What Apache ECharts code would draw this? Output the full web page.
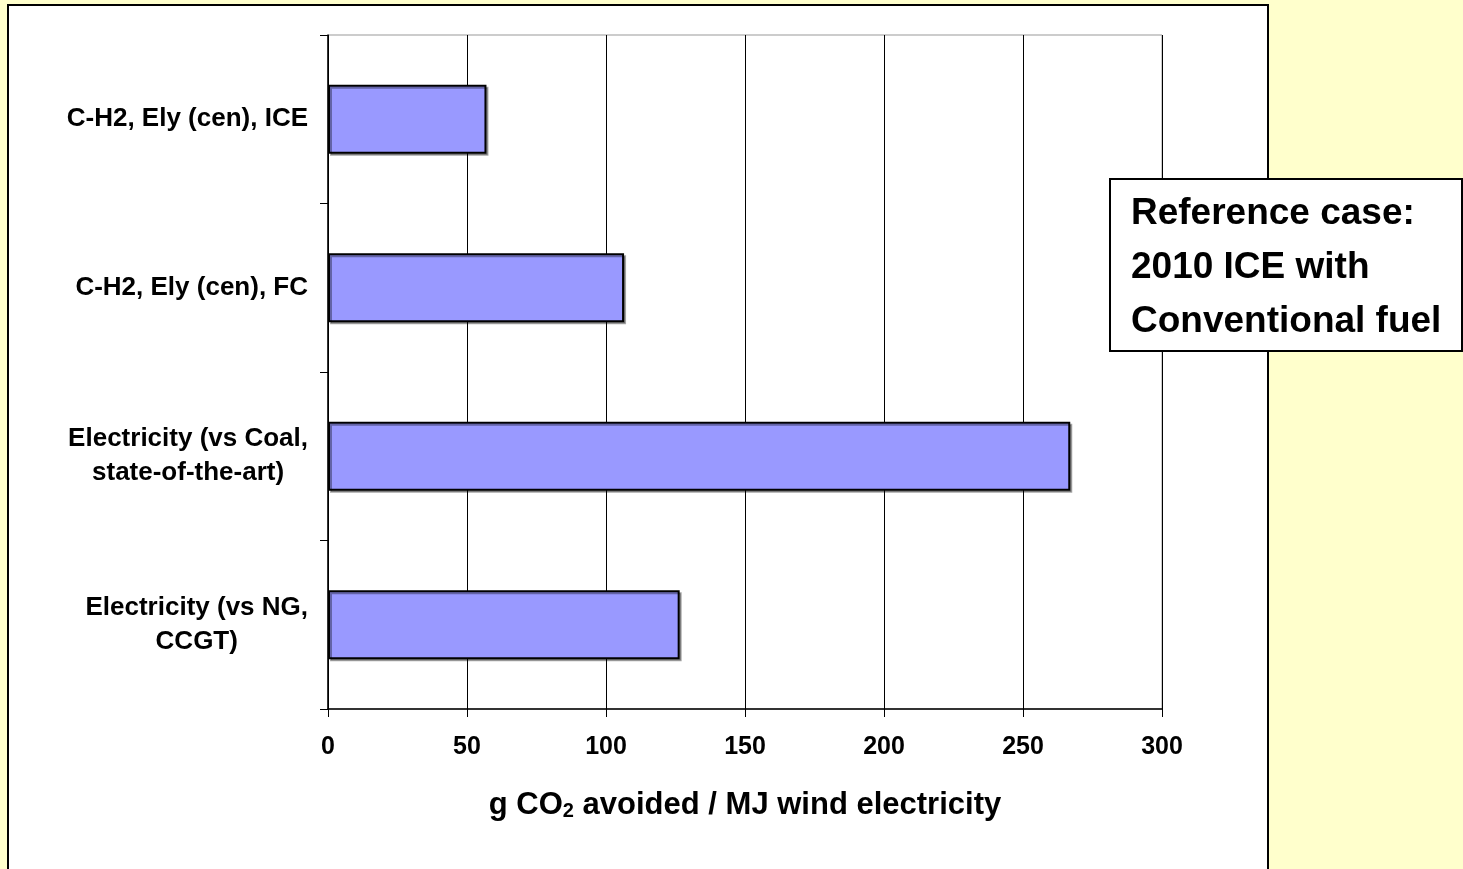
<!DOCTYPE html>
<html>
<head>
<meta charset="utf-8">
<script src="https://cdn.jsdelivr.net/npm/echarts@6/dist/echarts.min.js"></script>
<style>
    html, body { margin: 0; padding: 0; background: #FFFFCC; }
    #chartBox { width: 1463px; height: 869px; }
</style>
</head>
<body>
<div id="chartBox"></div>
<script>
// categories, top to bottom
const categories = [
    'C-H2, Ely (cen), ICE',
    'C-H2, Ely (cen), FC',
    'Electricity (vs Coal,\nstate-of-the-art)',
    'Electricity (vs NG,\nCCGT)'
];
// g CO2 avoided / MJ wind electricity
const avoided = [57, 106.5, 267, 126.5];
const xTicks = [0, 300, 50];   // min, max, step
const noteLines = ['Reference case:', '2010 ICE with', 'Conventional fuel'];

const FONT = '"Liberation Sans", Arial, sans-serif';

const chartDom = document.getElementById('chartBox');
const myChart = echarts.init(chartDom);

const option = {
    backgroundColor: '#FFFFCC',
    animation: false,
    textStyle: { fontFamily: FONT },
    graphic: [
        {
            // white chart panel
            type: 'rect',
            z: -1,
            shape: { x: 8, y: 5, width: 1260, height: 880 },
            style: { fill: '#FFFFFF', stroke: '#000000', lineWidth: 2 }
        },
        {
            // note box
            type: 'rect',
            zlevel: 1,
            z: 100,
            shape: { x: 1110, y: 179, width: 352, height: 172 },
            style: { fill: '#FFFFFF', stroke: '#000000', lineWidth: 2 }
        },
        {
            type: 'text',
            zlevel: 1,
            z: 101,
            x: 1131,
            y: 187,
            style: {
                text: noteLines.join('\n'),
                fontFamily: FONT,
                fontSize: 37,
                fontWeight: 'bold',
                lineHeight: 54,
                fill: '#000000'
            }
        }
    ],
    grid: {
        left: 328,
        right: 301,
        top: 35,
        bottom: 160,
        show: true,
        borderColor: '#999999',
        borderWidth: 1
    },
    xAxis: {
        type: 'value',
        min: xTicks[0],
        max: xTicks[1],
        interval: xTicks[2],
        name: '{a|g CO}{s|2}{a| avoided / MJ wind electricity}',
        nameLocation: 'middle',
        nameGap: 80,
        nameTextStyle: {
            rich: {
                a: { fontFamily: FONT, fontSize: 31, fontWeight: 'bold', color: '#000' },
                s: { fontFamily: FONT, fontSize: 20, fontWeight: 'bold', color: '#000', padding: [12, 0, 0, 0] }
            }
        },
        axisLine: { show: true, lineStyle: { color: '#000', width: 1.5 } },
        axisTick: { show: true, length: 8, lineStyle: { color: '#000' } },
        axisLabel: {
            margin: 26,
            fontFamily: FONT,
            fontSize: 25,
            fontWeight: 'bold',
            color: '#000'
        },
        splitLine: { show: true, lineStyle: { color: '#000', width: 1 } }
    },
    yAxis: {
        type: 'category',
        inverse: true,
        data: categories,
        axisLine: { show: true, lineStyle: { color: '#000', width: 1.5 } },
        axisTick: { show: true, length: 8, lineStyle: { color: '#000' } },
        axisLabel: {
            margin: 20,
            interval: 0,
            formatter: function (v) {
                return v.split('\n').map(function (l) { return '{c|' + l + '}'; }).join('\n');
            },
            rich: {
                c: {
                    align: 'center',
                    fontFamily: FONT,
                    fontSize: 26,
                    fontWeight: 'bold',
                    color: '#000',
                    lineHeight: 34
                }
            }
        },
        splitLine: { show: false }
    },
    series: [
        {
            type: 'bar',
            data: avoided,
            barWidth: '41%',
            itemStyle: {
                color: '#9999FF',
                borderColor: '#000000',
                borderWidth: 2,
                shadowColor: 'rgba(0,0,0,0.35)',
                shadowOffsetX: 2,
                shadowOffsetY: 2
            }
        }
    ]
};
myChart.setOption(option);
</script>
</body>
</html>
